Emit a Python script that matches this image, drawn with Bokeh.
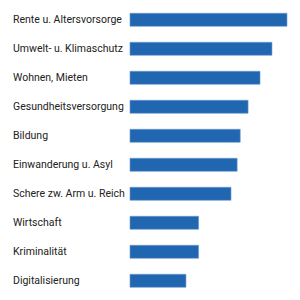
from bokeh.plotting import figure
from bokeh.models import Range1d, ColumnDataSource
from bokeh.core.properties import value
from bokeh.embed import file_html
from bokeh.resources import INLINE

# Topics, top to bottom, with their share (%)
topics = [
    "Rente u. Altersvorsorge",
    "Umwelt- u. Klimaschutz",
    "Wohnen, Mieten",
    "Gesundheitsversorgung",
    "Bildung",
    "Einwanderung u. Asyl",
    "Schere zw. Arm u. Reich",
    "Wirtschaft",
    "Kriminalität",
    "Digitalisierung",
]
shares = [46, 41.6, 38.1, 34.6, 32.3, 31.4, 29.6, 20.1, 20.1, 16.4]

rows = list(range(len(topics)))
src = ColumnDataSource(dict(topic=topics, share=shares, row=rows))

p = figure(
    width=300, height=300,
    output_backend="svg", toolbar_location=None,
    x_range=Range1d(-37.94, 49.96),
    y_range=Range1d(9.68, -0.665),
    min_border=0, outline_line_color=None,
)
p.axis.visible = False
p.grid.visible = False

p.hbar(y="row", left=0, right="share", height=0.45, source=src,
       fill_color="#2166b0", line_color="#6f9bd0", line_width=0.6)

p.text(x=0, y="row", text="topic", source=src, x_offset=-117,
       text_align="left", text_baseline="middle",
       text_font=value("Roboto"), text_font_size="10.5px", text_color="#222222")

open("out.html", "w").write(file_html(p, INLINE))
